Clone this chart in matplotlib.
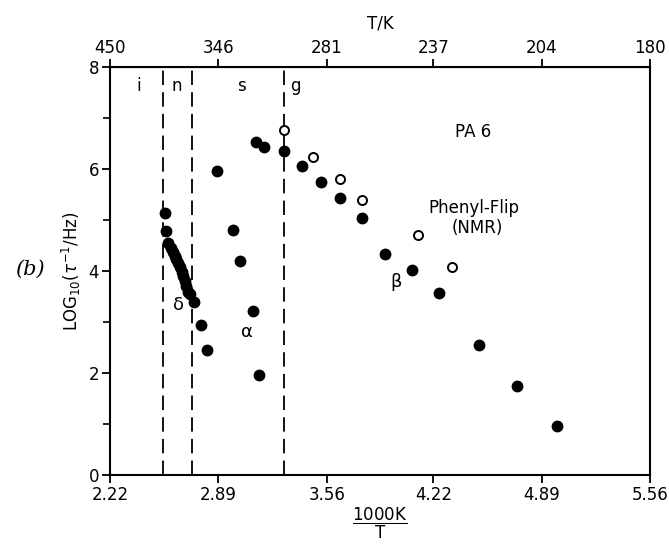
import matplotlib.pyplot as plt

plt.rcParams['font.family'] = ['DejaVu Sans']
plt.rcParams['mathtext.fontset'] = 'dejavusans'

# filled circles (dielectric / mechanical relaxations)
filled_x = [2.560, 2.566,
            2.581, 2.595, 2.607, 2.619, 2.630, 2.641, 2.652, 2.663, 2.673, 2.683, 2.693, 2.704, 2.712,
            2.741, 2.783, 2.818,
            2.884, 2.983, 3.024, 3.106, 3.144,
            3.123, 3.172, 3.298, 3.405, 3.523, 3.642, 3.777, 3.921, 4.086, 4.257, 4.504, 4.735, 4.983]
filled_y = [5.13, 4.79,
            4.54, 4.45, 4.38, 4.30, 4.23, 4.15, 4.07, 3.98, 3.90, 3.80, 3.70, 3.58, 3.55,
            3.40, 2.94, 2.46,
            5.97, 4.80, 4.20, 3.22, 1.96,
            6.52, 6.44, 6.35, 6.05, 5.75, 5.44, 5.04, 4.33, 4.01, 3.56, 2.55, 1.75, 0.96]

# open circles (phenyl flip, NMR)
open_x = [3.298, 3.473, 3.642, 3.777, 4.127, 4.333]
open_y = [6.76, 6.24, 5.80, 5.39, 4.71, 4.08]

# phase boundaries
bounds = [2.546, 2.729, 3.296]
regions = ['i', 'n', 's', 'g']
region_x = [2.40, 2.635, 3.03, 3.365]

xticks = [2.22, 2.89, 3.56, 4.22, 4.89, 5.56]
xticklabels = ['2.22', '2.89', '3.56', '4.22', '4.89', '5.56']
top_labels = ['450', '346', '281', '237', '204', '180']

fig = plt.figure(figsize=(6.69, 5.45), dpi=100)
ax = fig.add_axes([110 / 669, 1 - 475 / 545, 540 / 669, 408 / 545])

for b in bounds:
    ax.plot([b, b], [0, 8], color='black', lw=1.3, ls=(0, (8, 4)))

ax.plot(filled_x, filled_y, 'o', color='black', ms=7.5, zorder=3)
ax.plot(open_x, open_y, 'o', mfc='white', mec='black', mew=1.4, ms=6.5, zorder=3)

ax.set_xlim(2.22, 5.56)
ax.set_ylim(0, 8)
ax.set_xticks(xticks)
ax.set_xticklabels(xticklabels)
ax.set_yticks([0, 2, 4, 6, 8])
ax.set_yticks([1, 3, 5, 7], minor=True)
ax.tick_params(axis='both', direction='out', labelsize=12, width=1.3, length=6, pad=2)
ax.tick_params(axis='y', which='minor', direction='out', width=1.2, length=5)
for side in ['left', 'bottom', 'top', 'right']:
    ax.spines[side].set_linewidth(1.5)

top = ax.secondary_xaxis('top')
top.set_xticks(xticks)
top.set_xticklabels(top_labels)
top.tick_params(direction='out', labelsize=12, width=1.3, length=6, pad=1)
top.set_xlabel('T/K', fontsize=12, labelpad=8)

ax.set_ylabel(r'LOG$_{10}$($\tau^{-1}$/Hz)', fontsize=12, labelpad=4)
ax.set_xlabel(r'$\dfrac{\mathrm{1000K}}{\mathrm{T}}$', fontsize=12, labelpad=1)

for r, rx in zip(regions, region_x):
    ax.text(rx, 7.62, r, fontsize=12, ha='center', va='center')

ax.text(4.465, 6.73, 'PA 6', fontsize=12, ha='center', va='center')
ax.text(4.47, 5.24, 'Phenyl-Flip', fontsize=12, ha='center', va='center')
ax.text(4.49, 4.84, '(NMR)', fontsize=12, ha='center', va='center')
ax.text(3.99, 3.79, 'β', fontsize=13, ha='center', va='center')
ax.text(2.643, 3.33, 'δ', fontsize=13, ha='center', va='center')
ax.text(3.07, 2.80, 'α', fontsize=13, ha='center', va='center')

fig.text(0.045, 0.505, '(b)', fontsize=15, family='DejaVu Serif', style='italic',
         ha='center', va='center')

fig.savefig('out.png', dpi=100)
